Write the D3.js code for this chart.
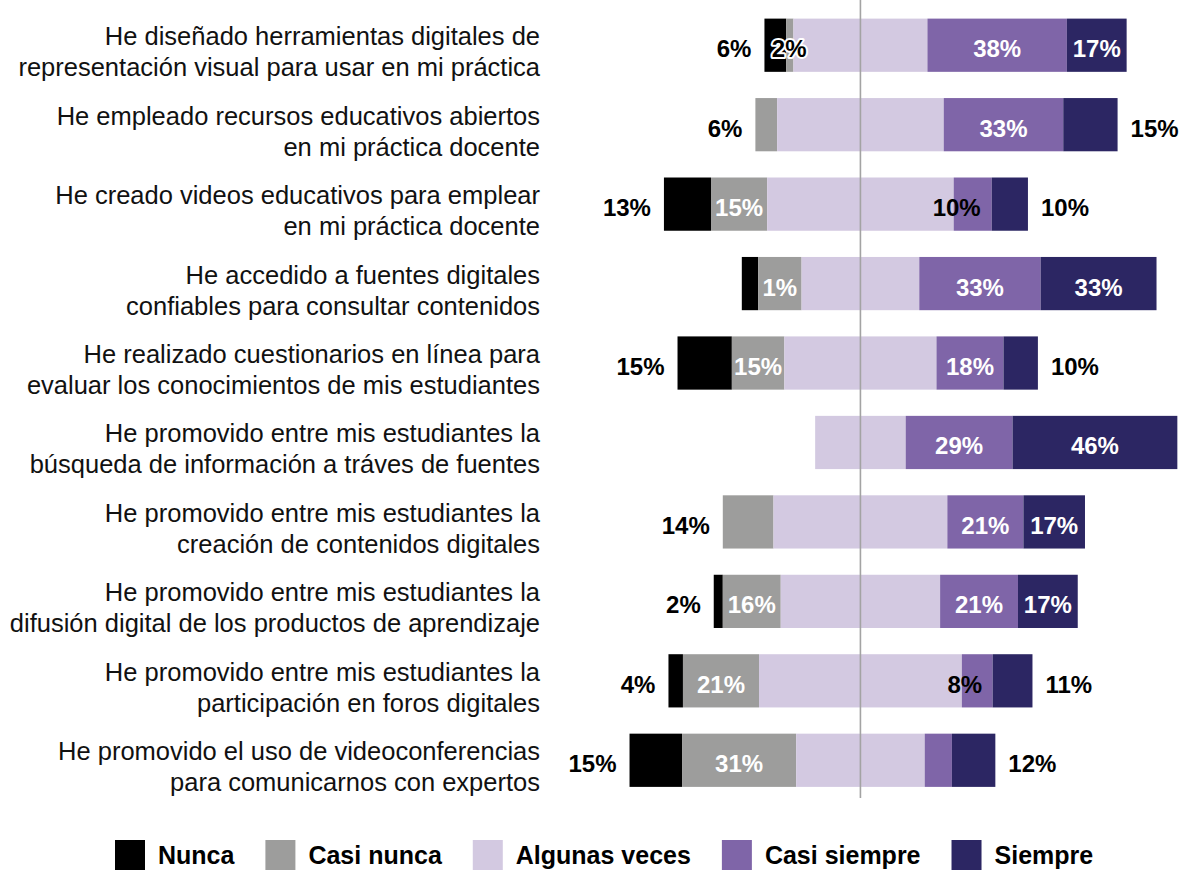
<!DOCTYPE html>
<html>
<head>
<meta charset="utf-8">
<script src="https://cdn.jsdelivr.net/npm/d3@7"></script>
<style>
  body { margin: 0; background: #fff; }
</style>
</head>
<body>
<div id="chart"></div>
<script>
// Survey items (each label on two lines)
const categories = [
  ["He diseñado herramientas digitales de", "representación visual para usar en mi práctica"],
  ["He empleado recursos educativos abiertos", "en mi práctica docente"],
  ["He creado videos educativos para emplear", "en mi práctica docente"],
  ["He accedido a fuentes digitales", "confiables para consultar contenidos"],
  ["He realizado cuestionarios en línea para", "evaluar los conocimientos de mis estudiantes"],
  ["He promovido entre mis estudiantes la", "búsqueda de información a tráves de fuentes"],
  ["He promovido entre mis estudiantes la", "creación de contenidos digitales"],
  ["He promovido entre mis estudiantes la", "difusión digital de los productos de aprendizaje"],
  ["He promovido entre mis estudiantes la", "participación en foros digitales"],
  ["He promovido el uso de videoconferencias", "para comunicarnos con expertos"]
];

const seriesNames = ["Nunca", "Casi nunca", "Algunas veces", "Casi siempre", "Siempre"];

// Segment widths (% of respondents)
const nunca        = [6, 0, 13, 4.5, 15, 0, 0, 2.5, 4, 14.5];
const casiNunca    = [2, 6, 15.5, 12, 14.5, 0, 14, 16, 21, 31.5];
const algunasVeces = [37, 46, 51.5, 32.5, 42, 25, 48, 44, 56, 35.5];
const casiSiempre  = [38.5, 33, 10.5, 33.5, 18.5, 29.5, 21, 21.5, 8.5, 7.5];
const siempre      = [16.5, 15, 10, 32, 9.5, 45.5, 17, 16.5, 11, 12];

// Data labels as printed on the chart ("" = no label)
const nuncaLabels        = ["6%", "", "13%", "", "15%", "", "", "2%", "4%", "15%"];
const casiNuncaLabels    = ["2%", "6%", "15%", "1%", "15%", "", "14%", "16%", "21%", "31%"];
const algunasVecesLabels = ["", "", "", "", "", "", "", "", "", ""];
const casiSiempreLabels  = ["38%", "33%", "10%", "33%", "18%", "29%", "21%", "21%", "8%", ""];
const siempreLabels      = ["17%", "15%", "10%", "33%", "10%", "46%", "17%", "17%", "11%", "12%"];

const colors = ["#000000", "#9d9d9c", "#d3c9e1", "#7f65a8", "#2c2663"];

const width = 1187;
const height = 872;
const labelFont = "'Liberation Sans', Arial, sans-serif";

const seriesValues = [nunca, casiNunca, algunasVeces, casiSiempre, siempre];
const seriesLabels = [nuncaLabels, casiNuncaLabels, algunasVecesLabels, casiSiempreLabels, siempreLabels];

const rows = categories.map((c, i) => {
  const row = { idx: i };
  seriesNames.forEach((s, j) => row[s] = seriesValues[j][i]);
  // shift so the middle of "Algunas veces" sits on zero
  row.offset = -(row["Nunca"] + row["Casi nunca"] + row["Algunas veces"] / 2);
  return row;
});

const stacked = d3.stack().keys(seriesNames)(rows);

const x = d3.scaleLinear().domain([-65, 90]).range([625, 1186.4]);
const y = d3.scaleBand()
  .domain(rows.map(d => d.idx))
  .range([5.5, 800])
  .paddingInner(0.33)
  .paddingOuter(0.165);

const svg = d3.select("#chart")
  .append("svg")
  .attr("width", width)
  .attr("height", height)
  .attr("viewBox", [0, 0, width, height])
  .attr("font-family", labelFont);

// Bars
const layer = svg.append("g")
  .selectAll("g")
  .data(stacked)
  .join("g")
  .attr("fill", (d, i) => colors[i]);

layer.selectAll("rect")
  .data(d => d.filter(p => p[1] - p[0] > 0))
  .join("rect")
  .attr("x", p => x(p[0] + p.data.offset))
  .attr("y", p => y(p.data.idx))
  .attr("width", p => x(p[1] + p.data.offset) - x(p[0] + p.data.offset))
  .attr("height", y.bandwidth());

// Zero line on top of the bars
svg.append("line")
  .attr("x1", x(0)).attr("x2", x(0))
  .attr("y1", 0).attr("y2", 798)
  .attr("stroke", "#a3a3a3")
  .attr("stroke-width", 1.6);

// Category labels
const cat = svg.append("g")
  .selectAll("text")
  .data(categories)
  .join("text")
  .attr("text-anchor", "end")
  .attr("font-size", 25.5)
  .attr("fill", "#111");

cat.selectAll("tspan")
  .data((d, i) => d.map((line, k) => ({ line, k, i })))
  .join("tspan")
  .attr("x", 540)
  .attr("y", d => y(d.i) + y.bandwidth() / 2 + d.k * 31)
  .text(d => d.line);

// Data labels
const labelData = [];
stacked.forEach((s, j) => {
  s.forEach(p => {
    const text = seriesLabels[j][p.data.idx];
    if (!text) return;
    const v = p[1] - p[0];
    const x0 = x(p[0] + p.data.offset);
    const x1 = x(p[1] + p.data.offset);
    const cy = y(p.data.idx) + y.bandwidth() / 2 + 12;
    const isLeftEnd = p[0] === 0 || (j === 1 && p.data["Nunca"] === 0);
    const isRightEnd = j === 4;
    if (isLeftEnd && v < 16) {
      labelData.push({ text, x: x0 - 13, y: cy, anchor: "end", fill: "#000" });
    } else if (isRightEnd && v < 16) {
      labelData.push({ text, x: x1 + 13, y: cy, anchor: "start", fill: "#000" });
    } else if (v <= 11) {
      labelData.push({ text, x: x0 + 3, y: cy, anchor: "middle", fill: "#000", halo: j < 2 });
    } else {
      labelData.push({ text, x: (x0 + x1) / 2, y: cy, anchor: "middle", fill: "#fff" });
    }
  });
});

svg.append("g")
  .selectAll("text")
  .data(labelData)
  .join("text")
  .attr("x", d => d.x)
  .attr("y", d => d.y)
  .attr("text-anchor", d => d.anchor)
  .attr("font-size", 24)
  .attr("font-weight", "bold")
  .attr("fill", d => d.fill)
  .attr("stroke", d => d.halo ? "#fff" : null)
  .attr("stroke-width", d => d.halo ? 4 : null)
  .attr("stroke-linejoin", "round")
  .attr("paint-order", "stroke")
  .text(d => d.text);

// Legend
const legend = svg.append("g").attr("transform", "translate(115,840)");
let lx = 0;
seriesNames.forEach((name, i) => {
  const g = legend.append("g").attr("transform", `translate(${lx},0)`);
  g.append("rect")
    .attr("width", 30)
    .attr("height", 30)
    .attr("fill", colors[i]);
  const t = g.append("text")
    .attr("x", 43)
    .attr("y", 24)
    .attr("font-size", 25)
    .attr("font-weight", "bold")
    .attr("fill", "#000")
    .text(name);
  lx += 43 + t.node().getComputedTextLength() + 31;
});
</script>
</body>
</html>
